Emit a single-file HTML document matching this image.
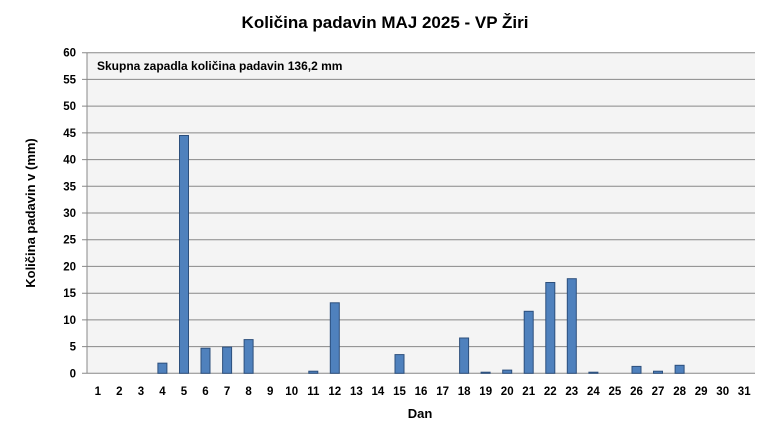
<!DOCTYPE html><html><head><style>body{margin:0;background:#fff}</style></head><body>
<svg width="770" height="439" xmlns="http://www.w3.org/2000/svg" font-family="Liberation Sans, sans-serif" font-weight="bold">
<text x="385" y="28" text-anchor="middle" font-size="17">Količina  padavin  MAJ 2025 - VP Žiri</text>
<rect x="87" y="52.7" width="668" height="320.6" fill="#f4f4f4"/>
<g stroke="#888" stroke-width="1">
<line x1="82" x2="755" y1="373.3" y2="373.3"/>
<line x1="82" x2="755" y1="346.6" y2="346.6"/>
<line x1="82" x2="755" y1="319.9" y2="319.9"/>
<line x1="82" x2="755" y1="293.2" y2="293.2"/>
<line x1="82" x2="755" y1="266.4" y2="266.4"/>
<line x1="82" x2="755" y1="239.7" y2="239.7"/>
<line x1="82" x2="755" y1="213.0" y2="213.0"/>
<line x1="82" x2="755" y1="186.3" y2="186.3"/>
<line x1="82" x2="755" y1="159.6" y2="159.6"/>
<line x1="82" x2="755" y1="132.9" y2="132.9"/>
<line x1="82" x2="755" y1="106.1" y2="106.1"/>
<line x1="82" x2="755" y1="79.4" y2="79.4"/>
<line x1="82" x2="755" y1="52.7" y2="52.7"/>
<line x1="87" x2="87" y1="52.7" y2="373.3"/>
</g>
<g fill="#4f81bd" stroke="#2c4f7c" stroke-width="1">
<rect x="157.9" y="363.15" width="9" height="10.15"/>
<rect x="179.5" y="135.5" width="9" height="237.8"/>
<rect x="201.0" y="348.2" width="9" height="25.1"/>
<rect x="222.6" y="347.1" width="9" height="26.2"/>
<rect x="244.1" y="339.6" width="9" height="33.7"/>
<rect x="308.8" y="371.2" width="9" height="2.1"/>
<rect x="330.3" y="302.8" width="9" height="70.5"/>
<rect x="395.0" y="354.6" width="9" height="18.7"/>
<rect x="459.6" y="338.0" width="9" height="35.3"/>
<rect x="481.1" y="372.2" width="9" height="1.1"/>
<rect x="502.7" y="370.1" width="9" height="3.2"/>
<rect x="524.2" y="311.3" width="9" height="62.0"/>
<rect x="545.8" y="282.5" width="9" height="90.8"/>
<rect x="567.3" y="278.7" width="9" height="94.6"/>
<rect x="588.9" y="372.2" width="9" height="1.1"/>
<rect x="632.0" y="366.4" width="9" height="6.9"/>
<rect x="653.5" y="371.2" width="9" height="2.1"/>
<rect x="675.1" y="365.3" width="9" height="8.0"/>
</g>
<g font-size="11.5" text-anchor="end">
<text x="76" y="377.3">0</text>
<text x="76" y="350.6">5</text>
<text x="76" y="323.9">10</text>
<text x="76" y="297.2">15</text>
<text x="76" y="270.4">20</text>
<text x="76" y="243.7">25</text>
<text x="76" y="217.0">30</text>
<text x="76" y="190.3">35</text>
<text x="76" y="163.6">40</text>
<text x="76" y="136.9">45</text>
<text x="76" y="110.1">50</text>
<text x="76" y="83.4">55</text>
<text x="76" y="56.7">60</text>
</g>
<g font-size="11.5" text-anchor="middle">
<text x="97.8" y="395">1</text><text x="119.3" y="395">2</text><text x="140.9" y="395">3</text><text x="162.4" y="395">4</text><text x="184.0" y="395">5</text><text x="205.5" y="395">6</text><text x="227.1" y="395">7</text><text x="248.6" y="395">8</text><text x="270.2" y="395">9</text><text x="291.7" y="395">10</text><text x="313.3" y="395">11</text><text x="334.8" y="395">12</text><text x="356.4" y="395">13</text><text x="377.9" y="395">14</text><text x="399.5" y="395">15</text><text x="421.0" y="395">16</text><text x="442.6" y="395">17</text><text x="464.1" y="395">18</text><text x="485.7" y="395">19</text><text x="507.2" y="395">20</text><text x="528.7" y="395">21</text><text x="550.3" y="395">22</text><text x="571.8" y="395">23</text><text x="593.4" y="395">24</text><text x="614.9" y="395">25</text><text x="636.5" y="395">26</text><text x="658.0" y="395">27</text><text x="679.6" y="395">28</text><text x="701.1" y="395">29</text><text x="722.7" y="395">30</text><text x="744.2" y="395">31</text>
</g>
<text x="97" y="70" font-size="12">Skupna zapadla količina padavin 136,2 mm</text>
<text x="420" y="418" text-anchor="middle" font-size="13">Dan</text>
<text transform="translate(35,213) rotate(-90)" text-anchor="middle" font-size="13">Količina padavin v  (mm)</text>
</svg></body></html>
